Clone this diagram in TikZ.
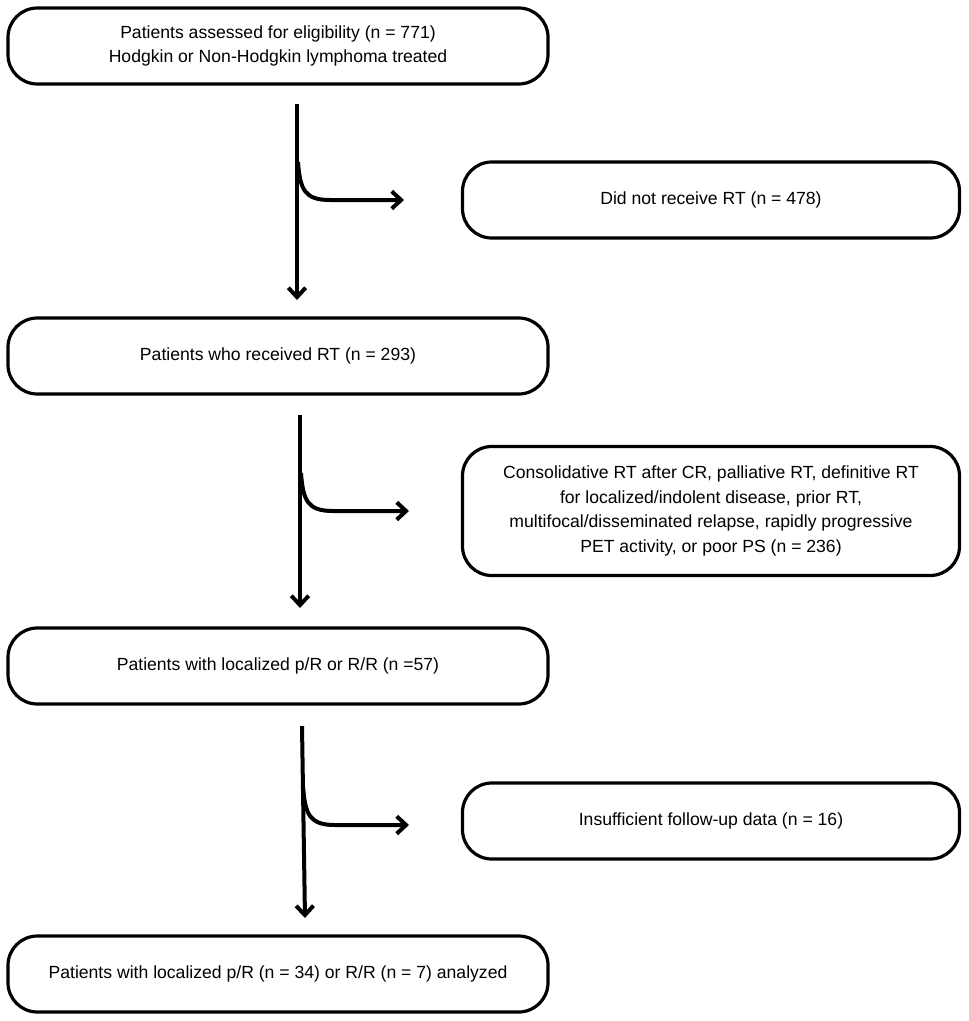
\documentclass[tikz,border=0pt]{standalone}
\usepackage{fontspec}
\setmainfont{Liberation Sans}
\usetikzlibrary{arrows.meta}
\tikzset{
  box/.style={draw, line width=2.4pt, rounded corners=22pt, align=center, font=\fontsize{13.2}{18.4}\selectfont, inner sep=0pt},
  flow/.style={line width=3pt, -{Straight Barb[length=7pt,width=13pt,line width=3pt]}}
}
\begin{document}
\begin{tikzpicture}[x=0.75pt,y=0.75pt,yscale=-1,xscale=1]
  \useasboundingbox (0,0) rectangle (968,1021);
  % boxes
  \node [box, minimum width=540*0.75pt, minimum height=76*0.75pt] (assessed) at (278,46) {Patients assessed for eligibility (n = 771)\\Hodgkin or Non-Hodgkin lymphoma treated};
  \node [box, minimum width=497*0.75pt, minimum height=76*0.75pt] (noRT) at (711,200) {Did not receive RT (n = 478)};
  \node [box, minimum width=540*0.75pt, minimum height=76*0.75pt] (received) at (278,356) {Patients who received RT (n = 293)};
  \node [box, minimum width=497*0.75pt, minimum height=129*0.75pt] (excluded) at (711,511) {Consolidative RT after CR, palliative RT, definitive RT\\for localized/indolent disease, prior RT,\\multifocal/disseminated relapse, rapidly progressive\\PET activity, or poor PS (n = 236)};
  \node [box, minimum width=540*0.75pt, minimum height=76*0.75pt] (localized) at (278,666) {Patients with localized p/R or R/R (n =57)};
  \node [box, minimum width=497*0.75pt, minimum height=76*0.75pt] (followup) at (711,821) {Insufficient follow-up data (n = 16)};
  \node [box, minimum width=540*0.75pt, minimum height=76*0.75pt] (analyzed) at (278,974) {Patients with localized p/R (n = 34) or R/R (n = 7) analyzed};

  % connectors
  \coordinate (a1) at (297,104);
  \coordinate (a2) at (297,300);
  \coordinate (b1) at (300,415);
  \coordinate (b2) at (300,608);
  \coordinate (c1) at (302,726);
  \coordinate (c2) at (305,918);
  \draw [flow] (a1) -- (a2);
  \draw [flow] (298,162) .. controls (300,190) and (305,200) .. (330,200) -- (404,200);
  \draw [flow] (b1) -- (b2);
  \draw [flow] (301,473) .. controls (303,501) and (308,511) .. (333,511) -- (409,511);
  \draw [flow] (c1) -- (c2);
  \draw [flow] (303,786) .. controls (305,815) and (310,825) .. (335,825) -- (409,825);
\end{tikzpicture}
\end{document}
